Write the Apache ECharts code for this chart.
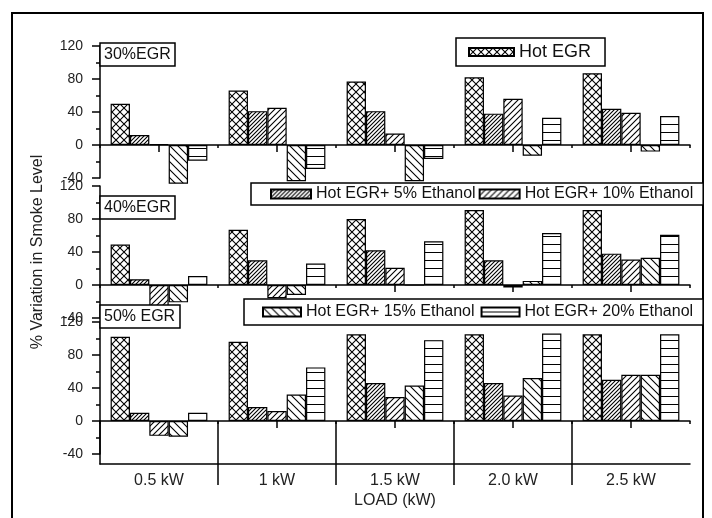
<!DOCTYPE html>
<html><head><meta charset="utf-8">
<script src="https://cdn.jsdelivr.net/npm/echarts@6/dist/echarts.min.js"></script>
<style>html,body{margin:0;padding:0;background:#fff}#c{width:712px;height:518px}</style>
</head><body><div id="c"></div>
<script>
// ---- data ----
const categories = ['0.5 kW', '1 kW', '1.5 kW', '2.0 kW', '2.5 kW'];
const seriesNames = ['Hot EGR', 'Hot EGR+ 5% Ethanol', 'Hot EGR+ 10% Ethanol', 'Hot EGR+ 15% Ethanol', 'Hot EGR+ 20% Ethanol'];
const panelLabels = ['30%EGR', '40%EGR', '50% EGR'];
const yTicks = [-40, 0, 40, 80, 120];

// 30% EGR
const hot30 = [50, 66, 77, 82, 87];
const eth5_30 = [12, 41, 41, 38, 44];
const eth10_30 = [1, 45, 14, 56, 39];
const eth15_30 = [-47, -44, -44, -13, -8];
const eth20_30 = [-19, -29, -17, 33, 35];
// 40% EGR
const hot40 = [49, 67, 80, 91, 91];
const eth5_40 = [7, 30, 42, 30, 38];
const eth10_40 = [-26, -16, 21, -3, 31];
const eth15_40 = [-21, -12, 0, 5, 33];
const eth20_40 = [11, 26, 53, 63, 61];
// 50% EGR
const hot50 = [102, 96, 105, 105, 105];
const eth5_50 = [10, 17, 46, 46, 50];
const eth10_50 = [-18, 12, 29, 31, 56];
const eth15_50 = [-19, 32, 43, 52, 56];
const eth20_50 = [10, 65, 98, 106, 105];

const panels = [
  [hot30, eth5_30, eth10_30, eth15_30, eth20_30],
  [hot40, eth5_40, eth10_40, eth15_40, eth20_40],
  [hot50, eth5_50, eth10_50, eth15_50, eth20_50]
];

// ---- patterns ----
function makePattern(kind) {
  const c = document.createElement('canvas');
  let w = 8, h = 8;
  if (kind === 'dense') { w = 4; h = 4; }
  if (kind === 'fwd') { w = 6; h = 6; }
  if (kind === 'horiz') { w = 4; h = 8; }
  c.width = w; c.height = h;
  const ctx = c.getContext('2d');
  ctx.fillStyle = '#fff'; ctx.fillRect(0, 0, w, h);
  ctx.strokeStyle = '#000'; ctx.lineWidth = 1.1;
  ctx.beginPath();
  if (kind === 'cross') {
    ctx.moveTo(-1, h + 1); ctx.lineTo(w + 1, -1);
    ctx.moveTo(-1, -1); ctx.lineTo(w + 1, h + 1);
  } else if (kind === 'dense' || kind === 'fwd') {
    ctx.moveTo(-1, h + 1); ctx.lineTo(w + 1, -1);
    ctx.moveTo(-1 - w, h + 1); ctx.lineTo(1, -1);
    ctx.moveTo(w - 1, h + 1); ctx.lineTo(2 * w + 1, -1);
  } else if (kind === 'back') {
    ctx.moveTo(-1, -1); ctx.lineTo(w + 1, h + 1);
    ctx.moveTo(-1 - w, -1); ctx.lineTo(1, h + 1);
    ctx.moveTo(w - 1, -1); ctx.lineTo(2 * w + 1, h + 1);
  } else if (kind === 'horiz') {
    ctx.lineWidth = 1;
    ctx.moveTo(0, 4.5); ctx.lineTo(w, 4.5);
  }
  ctx.stroke();
  return { image: c, repeat: 'repeat' };
}
const patterns = ['cross', 'dense', 'fwd', 'back', 'horiz'].map(makePattern);

const FONT = 'Arial, "Liberation Sans", sans-serif';
const gridTops = [46, 186, 322];
const gridH = 132;
const black = { color: '#000', width: 1.5 };

const grid = [], xAxis = [], yAxis = [], series = [];
gridTops.forEach((top, g) => {
  grid.push({ left: 100, width: 590, top: top, height: gridH });
  xAxis.push({
    type: 'category', gridIndex: g, data: categories, position: 'bottom',
    axisLine: { show: true, onZero: true, onZeroAxisIndex: g, lineStyle: black },
    axisTick: { show: true, alignWithLabel: true, length: 7, lineStyle: black },
    axisLabel: { show: false }, splitLine: { show: false }
  });
  xAxis.push({
    type: 'category', gridIndex: g, data: categories, position: 'bottom',
    axisLine: { show: false, onZero: true, onZeroAxisIndex: g },
    axisTick: { show: true, length: 3, lineStyle: black },
    axisLabel: { show: false }, splitLine: { show: false }
  });
  const y = {
    type: 'value', gridIndex: g, min: -40, max: 120, interval: 40,
    axisLine: { show: true, onZero: false, lineStyle: black },
    axisTick: { show: true, length: 8, lineStyle: black },
    minorTick: { show: true, splitNumber: 2, length: 4, lineStyle: black },
    splitLine: { show: false },
    axisLabel: { color: '#222', fontSize: 14, fontFamily: FONT, margin: 17,
      customValues: yTicks }
  };
  if (g === 1) {
    Object.assign(y, {
      name: '% Variation in Smoke Level', nameLocation: 'middle', nameRotate: 90, nameGap: 54,
      nameTextStyle: { color: '#222', fontSize: 16, fontFamily: FONT }
    });
  }
  yAxis.push(y);
  panels[g].forEach((vals, s) => {
    series.push({
      type: 'bar', name: seriesNames[s], data: vals,
      xAxisIndex: g * 2, yAxisIndex: g,
      barGap: '0%', barCategoryGap: '18%', clip: false,
      itemStyle: { color: patterns[s], borderColor: '#000', borderWidth: 1.2 },
      emphasis: { disabled: true }
    });
  });
});
// bottom table-like category axis
grid.push({ left: 100, width: 590, top: 421, height: 43 });
grid.push({ left: 100, width: 590, top: 464, height: 21 });
xAxis.push({
  type: 'category', gridIndex: 3, data: categories, position: 'bottom',
  axisLine: { show: true, onZero: false, lineStyle: black },
  axisTick: { show: false },
  axisLabel: { color: '#222', fontSize: 16, fontFamily: FONT, margin: 9, interval: 0 },
  splitLine: { show: true, interval: 0, showMinLine: false, showMaxLine: false, lineStyle: black },
  name: 'LOAD (kW)', nameLocation: 'middle', nameGap: 29,
  nameTextStyle: { color: '#222', fontSize: 16, fontFamily: FONT }
});
xAxis.push({
  type: 'category', gridIndex: 4, data: categories, position: 'bottom',
  axisLine: { show: false }, axisTick: { show: false }, axisLabel: { show: false },
  splitLine: { show: true, interval: 0, showMinLine: false, showMaxLine: false, lineStyle: black }
});
yAxis.push({ type: 'value', gridIndex: 3, min: 0, max: 1,
  axisLine: { show: true, lineStyle: black }, axisTick: { show: false },
  axisLabel: { show: false }, splitLine: { show: false } });
yAxis.push({ type: 'value', gridIndex: 4, show: false, min: 0, max: 1 });

const titleTops = [43, 196, 305];
const title = panelLabels.map((t, i) => ({
  text: t, left: 100, top: titleTops[i], borderColor: '#000', borderWidth: 1.5,
  padding: [4, 5, 3, 4], backgroundColor: '#fff',
  textStyle: { fontSize: 16, fontWeight: 'normal', color: '#111', fontFamily: FONT }
}));

const legendBase = {
  orient: 'horizontal', icon: 'rect', selectedMode: false,
  borderColor: '#000', borderWidth: 1.5, backgroundColor: '#fff'
};
const legend = [
  Object.assign({}, legendBase, { data: [seriesNames[0]], left: 456, top: 38,
    padding: [5, 14, 5, 12], itemWidth: 45, itemHeight: 8,
    textStyle: { fontSize: 18, color: '#111', fontFamily: FONT } }),
  Object.assign({}, legendBase, { data: [seriesNames[1], seriesNames[2]], left: 251, top: 183,
    padding: [3, 10, 3, 19], itemWidth: 40, itemHeight: 9, itemGap: 3,
    textStyle: { fontSize: 16, color: '#111', fontFamily: FONT } }),
  Object.assign({}, legendBase, { data: [seriesNames[3], seriesNames[4]], left: 244, top: 299,
    padding: [5, 10, 5, 18], itemWidth: 38, itemHeight: 9, itemGap: 6,
    textStyle: { fontSize: 16, color: '#111', fontFamily: FONT } })
];

const chart = echarts.init(document.getElementById('c'), null, { renderer: 'canvas' });
chart.setOption({
  backgroundColor: '#fff',
  animation: false,
  title, legend, grid, xAxis, yAxis, series,
  graphic: [{ type: 'rect', z: -10, silent: true,
    shape: { x: 12, y: 13, width: 691, height: 520 },
    style: { fill: 'none', stroke: '#000', lineWidth: 2 } }]
});
</script>
</body></html>
